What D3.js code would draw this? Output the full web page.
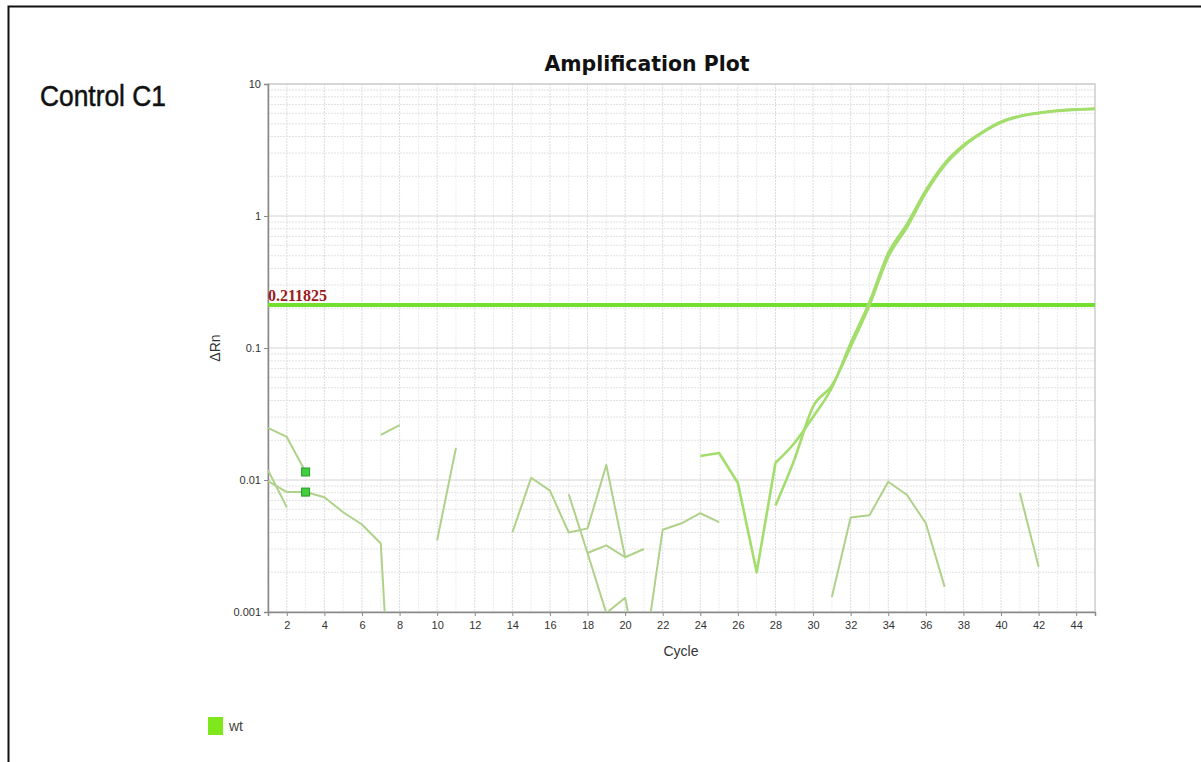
<!DOCTYPE html>
<html>
<head>
<meta charset="utf-8">
<script src="https://cdn.jsdelivr.net/npm/d3@7"></script>
<style>
  body { margin: 0; background: #fff; }
  svg { display: block; }
</style>
</head>
<body>
<svg id="chart" width="1201" height="762"></svg>
<script>
// cycle axis and threshold
const cycleDomain = [1, 45];
const cycleTicks = d3.range(2, 46, 2);
const rnTicks = [0.001, 0.01, 0.1, 1, 10];
const threshold = 0.211825;

// traces: start cycle + delta Rn per cycle (gaps = negative values)
const wellA = { start: 24, values: [0.0152, 0.016, 0.0095, 0.002, 0.0135, 0.019, 0.030, 0.050, 0.109, 0.223, 0.525, 0.87, 1.57, 2.51, 3.45, 4.33, 5.18, 5.73, 6.06, 6.29, 6.43, 6.50] };
const wellB = { start: 28, values: [0.0064, 0.0142, 0.036, 0.052, 0.102, 0.21, 0.49, 0.82, 1.50, 2.42, 3.36, 4.26, 5.10, 5.67, 6.01, 6.25, 6.40, 6.48] };
const noise1 = { start: 1, values: [0.0248, 0.0212, 0.0115] };
const noise2 = { start: 1, values: [0.0119, 0.0062] };
const noise3 = { start: 1, values: [0.0098, 0.0081, 0.0081, 0.0074, 0.0057, 0.0046, 0.0033, 0.00001] };
const noise4 = { start: 7, values: [0.022, 0.026] };
const noise5 = { start: 10, values: [0.0035, 0.0175] };
const noise6 = { start: 14, values: [0.0040, 0.0104, 0.0083, 0.0040, 0.0043, 0.013, 0.0026, 0.0030] };
const noise7 = { start: 17, values: [0.0078, 0.0028, 0.00098, 0.00128, 0.00025] };
const noise8 = { start: 18, values: [0.0028, 0.0032, 0.0026] };
const noise9 = { start: 21, values: [0.00044, 0.0042, 0.0047, 0.0056, 0.0048] };
const noise10 = { start: 31, values: [0.0013, 0.0052, 0.0054, 0.0097, 0.0077, 0.0047, 0.00155] };
const noise11 = { start: 41, values: [0.008, 0.0022] };
const noiseTraces = [noise1, noise2, noise3, noise4, noise5, noise6, noise7, noise8, noise9, noise10, noise11];
const wells = [wellA, wellB];

// baseline start markers (cycle 3)
const markers = [{ c: 3, v: 0.0115 }, { c: 3, v: 0.0081 }];

const svg = d3.select("#chart");

// outer frame
svg.append("rect")
  .attr("x", 8.5).attr("y", 6.5)
  .attr("width", 1300).attr("height", 800)
  .attr("fill", "none").attr("stroke", "#111").attr("stroke-width", 2);

let x = d3.scaleLinear().domain(cycleDomain).range([268, 1095]);
let y = d3.scaleLog().domain([0.001, 10]).range([612, 84]);

// grid
let grid = svg.append("g");
grid.selectAll(".vg")
  .data(d3.range(1, 46))
  .enter()
  .append("line")
  .attr("x1", (d) => x(d)).attr("x2", (d) => x(d))
  .attr("y1", 84).attr("y2", 612)
  .attr("stroke", (d) => (d % 2 == 0 ? "#dcdcdc" : "#ececec"))
  .attr("stroke-dasharray", "2,1");

let minor = [];
[0.001, 0.01, 0.1, 1].forEach((dec) => {
  for (let m = 2; m <= 9; m++) minor.push(dec * m);
});
grid.selectAll(".hg")
  .data(minor)
  .enter()
  .append("line")
  .attr("x1", 268).attr("x2", 1095)
  .attr("y1", (d) => y(d)).attr("y2", (d) => y(d))
  .attr("stroke", "#e2e2e2")
  .attr("stroke-dasharray", "2,1");
grid.selectAll(".mg")
  .data(rnTicks)
  .enter()
  .append("line")
  .attr("x1", 268).attr("x2", 1095)
  .attr("y1", (d) => y(d)).attr("y2", (d) => y(d))
  .attr("stroke", "#d4d4d4");

// plot border (top / right)
svg.append("rect")
  .attr("x", 268).attr("y", 84)
  .attr("width", 1095 - 268).attr("height", 612 - 84)
  .attr("fill", "none").attr("stroke", "#cfcfcf").attr("stroke-width", 1.5);

// axes
let yAxis = svg.append("g")
  .attr("transform", "translate(268,0)")
  .call(d3.axisLeft(y).tickValues(rnTicks).tickFormat(d3.format("~g")).tickSize(4).tickPadding(3));
let xAxis = svg.append("g")
  .attr("transform", "translate(0,612)")
  .call(d3.axisBottom(x).tickValues(cycleTicks).tickSize(4).tickPadding(5));
[yAxis, xAxis].forEach((a) => {
  a.select(".domain").attr("stroke", "#8a8a8a").attr("stroke-width", 1.5);
  a.selectAll(".tick line").attr("stroke", "#8a8a8a");
  a.selectAll(".tick text")
    .attr("fill", "#333")
    .attr("font-family", "Liberation Sans, Arial, sans-serif")
    .attr("font-size", "11px");
});

// clip to plot area
svg.append("clipPath").attr("id", "plotClip")
  .append("rect")
  .attr("x", 268).attr("y", 82)
  .attr("width", 1095 - 268).attr("height", 612 - 82);

let toPoints = (t) => t.values.map((v, i) => ({ c: t.start + i, v: v }));
let line = d3.line()
  .x((d) => x(d.c))
  .y((d) => y(d.v));
let smoothLine = d3.line()
  .curve(d3.curveMonotoneX)
  .x((d) => x(d.c))
  .y((d) => y(d.v));

let plot = svg.append("g").attr("clip-path", "url(#plotClip)");

// threshold line
plot.append("line")
  .attr("x1", 268).attr("x2", 1095)
  .attr("y1", y(threshold)).attr("y2", y(threshold))
  .attr("stroke", "#72e02c").attr("stroke-width", 4);

plot.selectAll(".trace")
  .data(noiseTraces)
  .enter()
  .append("path")
  .attr("class", "trace")
  .attr("d", (t) => line(toPoints(t)))
  .attr("fill", "none")
  .attr("stroke", "#afd189")
  .attr("stroke-width", 2)
  .attr("stroke-linejoin", "round");

// wells: straight through the noisy baseline, smooth once amplification starts
const smoothFrom = 28;
plot.selectAll(".well")
  .data(wells)
  .enter()
  .append("path")
  .attr("class", "well")
  .attr("d", (t) => {
    let pts = toPoints(t);
    let head = pts.filter((p) => p.c <= smoothFrom);
    let tail = pts.filter((p) => p.c >= smoothFrom);
    return (head.length > 1 ? line(head) : "") + smoothLine(tail);
  })
  .attr("fill", "none")
  .attr("stroke", "#a3de6c")
  .attr("stroke-width", 2.6)
  .attr("stroke-linejoin", "round");

// markers
svg.selectAll(".marker")
  .data(markers)
  .enter()
  .append("rect")
  .attr("x", (d) => x(d.c) - 4)
  .attr("y", (d) => y(d.v) - 4)
  .attr("width", 8).attr("height", 8)
  .attr("fill", "#3fcf3f").attr("stroke", "#2a9a2a").attr("stroke-width", 1);

// threshold label
svg.append("text")
  .attr("x", 268).attr("y", y(threshold) - 4)
  .attr("fill", "#9b1b1b")
  .attr("font-family", "Liberation Serif, Times New Roman, serif")
  .attr("font-weight", "bold")
  .attr("font-size", "16px")
  .text("0.211825");

// titles and labels
svg.append("text")
  .attr("x", 647).attr("y", 71)
  .attr("text-anchor", "middle")
  .attr("font-family", "DejaVu Sans, sans-serif")
  .attr("font-weight", "bold")
  .attr("font-size", "22px")
  .attr("textLength", 205).attr("lengthAdjust", "spacingAndGlyphs")
  .attr("fill", "#111")
  .text("Amplification Plot");

svg.append("text")
  .attr("x", 40).attr("y", 106)
  .attr("font-family", "Liberation Sans, Arial, sans-serif")
  .attr("font-size", "29px")
  .attr("stroke", "#111").attr("stroke-width", 0.5)
  .attr("textLength", 126).attr("lengthAdjust", "spacingAndGlyphs")
  .attr("fill", "#111")
  .text("Control C1");

svg.append("text")
  .attr("transform", "translate(220,348) rotate(-90)")
  .attr("text-anchor", "middle")
  .attr("font-family", "Liberation Sans, Arial, sans-serif")
  .attr("font-size", "14px")
  .attr("fill", "#333")
  .text("ΔRn");

svg.append("text")
  .attr("x", 681).attr("y", 656)
  .attr("text-anchor", "middle")
  .attr("font-family", "Liberation Sans, Arial, sans-serif")
  .attr("font-size", "14px")
  .attr("fill", "#333")
  .text("Cycle");

// legend
svg.append("rect")
  .attr("x", 208).attr("y", 717)
  .attr("width", 15).attr("height", 18)
  .attr("fill", "#7ee81c");
svg.append("text")
  .attr("x", 229).attr("y", 731)
  .attr("font-family", "Liberation Sans, Arial, sans-serif")
  .attr("font-size", "14px")
  .attr("fill", "#444")
  .text("wt");
</script>
</body>
</html>
